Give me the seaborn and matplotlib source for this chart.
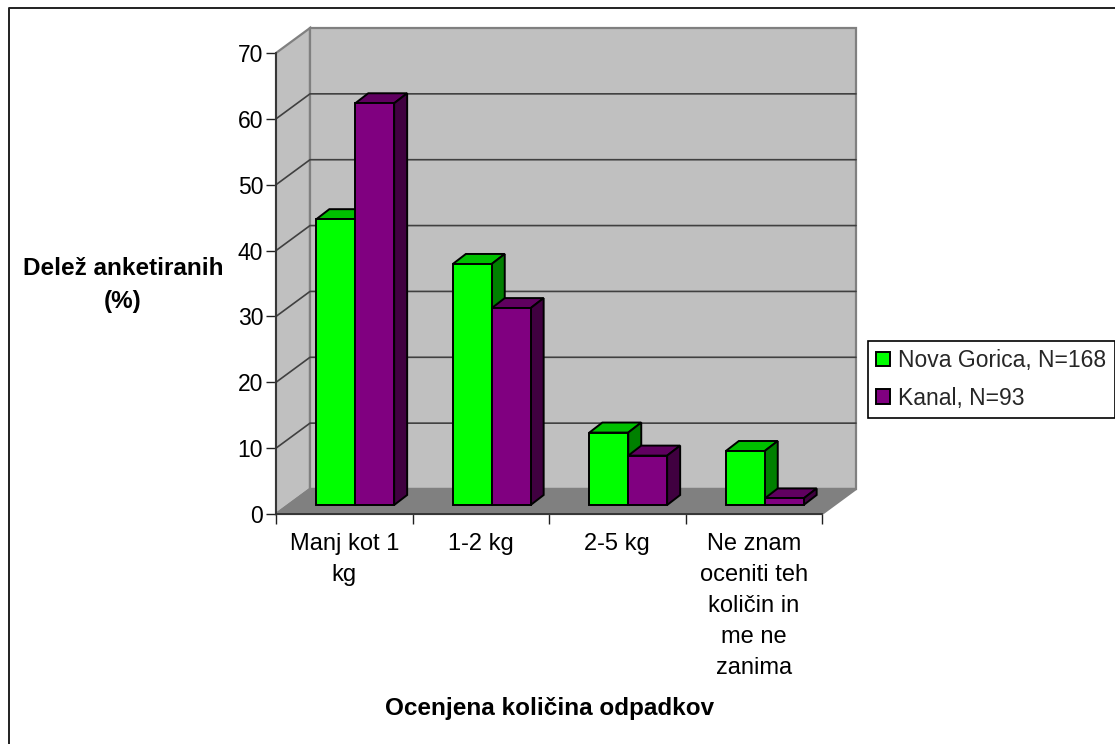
import matplotlib
matplotlib.use("Agg")
import matplotlib.pyplot as plt
from matplotlib.lines import Line2D
from matplotlib.patches import Polygon
import pandas as pd
import seaborn as sns

categories = ["Manj kot 1\nkg", "1-2 kg", "2-5 kg", "Ne znam\noceniti teh\nkoličin in\nme ne\nzanima"]
nova_gorica = [43.4, 36.6, 11.0, 8.2]
kanal = [61.0, 29.9, 7.5, 1.0]
series_names = ["Nova Gorica, N=168", "Kanal, N=93"]
y_ticks = [0, 10, 20, 30, 40, 50, 60, 70]

W, H = 1115, 744
# pixel box of the front plane of the fake 3d box
LEFT, RIGHT, BOTTOM, TOP = 276, 822, 514, 53

FRONT = ["#00ff00", "#800080"]
TOPS = ["#00c000", "#600060"]
SIDES = ["#008000", "#400040"]

sns.set_theme(style="white")
plt.rcParams["font.family"] = ["Liberation Sans", "DejaVu Sans"]

df = pd.DataFrame({
    "kategorija": categories * 2,
    "delez": nova_gorica + kanal,
    "obcina": [series_names[0]] * 4 + [series_names[1]] * 4,
})

fig = plt.figure(figsize=(W / 100, H / 100), dpi=100)
ax = fig.add_axes([LEFT / W, 1 - BOTTOM / H, (RIGHT - LEFT) / W, (BOTTOM - TOP) / H])

sns.barplot(data=df, x="kategorija", y="delez", hue="obcina", palette=FRONT,
            width=0.57, gap=0, saturation=1, edgecolor="black", linewidth=1.4,
            ax=ax, zorder=5)
ax.set_xlim(-0.5, 3.5)
ax.set_ylim(0, 70)
ax.set_yticks(y_ticks)

# pixel depths converted to data units
px_x = 4 / (RIGHT - LEFT)
px_y = 70 / (BOTTOM - TOP)
wall_dx, wall_dy = 34 * px_x, 25 * px_y
base_dx, base_dy = 11 * px_x, 9 * px_y
bar_dx, bar_dy = 13 * px_x, 10 * px_y

x0, x1 = ax.get_xlim()
y1 = ax.get_ylim()[1]


def wall(points, color):
    ax.add_patch(Polygon(points, closed=True, facecolor=color, edgecolor="#808080",
                         linewidth=1.6, clip_on=False, zorder=1))


wall([(x0, 0), (x0 + wall_dx, wall_dy), (x0 + wall_dx, y1 + wall_dy), (x0, y1)], "#c0c0c0")
wall([(x0 + wall_dx, wall_dy), (x1 + wall_dx, wall_dy), (x1 + wall_dx, y1 + wall_dy),
      (x0 + wall_dx, y1 + wall_dy)], "#c0c0c0")
wall([(x0, 0), (x1, 0), (x1 + wall_dx, wall_dy), (x0 + wall_dx, wall_dy)], "#808080")

for t in y_ticks[1:-1]:
    ax.add_line(Line2D([x0, x0 + wall_dx, x1 + wall_dx], [t, t + wall_dy, t + wall_dy],
                       color="#404040", linewidth=1.2, clip_on=False, zorder=2))

# move the bars back onto the floor and give them sides and tops
for i, container in enumerate(ax.containers):
    for bar in container:
        bar.set_x(bar.get_x() + base_dx)
        bar.set_y(base_dy)
        bar.set_clip_on(False)
        bar.set_zorder(4 + 2 * i)
        a, b = bar.get_x(), bar.get_x() + bar.get_width()
        low, high = bar.get_y(), bar.get_y() + bar.get_height()
        ax.add_patch(Polygon([(a, high), (b, high), (b + bar_dx, high + bar_dy), (a + bar_dx, high + bar_dy)],
                             facecolor=TOPS[i], edgecolor="black", linewidth=1.4,
                             clip_on=False, zorder=3 + 2 * i))
        ax.add_patch(Polygon([(b, low), (b + bar_dx, low + bar_dy), (b + bar_dx, high + bar_dy), (b, high)],
                             facecolor=SIDES[i], edgecolor="black", linewidth=1.4,
                             clip_on=False, zorder=3 + 2 * i))

sns.despine(ax=ax, top=True, right=True)
for side in ["left", "bottom"]:
    ax.spines[side].set_color("#303030")
    ax.spines[side].set_linewidth(1.3)
    ax.spines[side].set_zorder(3)

ax.tick_params(axis="y", length=7.2, width=1, color="#202020", pad=2, labelsize=16.5, left=True, labelcolor="black")
ax.tick_params(axis="x", length=0, pad=13.5, labelsize=17, labelcolor="black")
# category separators under the axis
ax.set_xticks([-0.5, 0.5, 1.5, 2.5, 3.5], minor=True)
ax.tick_params(axis="x", which="minor", length=7.2, width=1, color="#202020", bottom=True)
for label in ax.get_xticklabels():
    label.set_linespacing(1.53)

ax.set_xlabel("Ocenjena količina odpadkov", fontsize=17.5, fontweight="bold", color="black")
ax.xaxis.set_label_coords(550 / W, 1 - 697 / H, transform=fig.transFigure)
ax.set_ylabel("Delež anketiranih\n(%)", fontsize=17.5, fontweight="bold", rotation=0,
              ha="center", va="center", linespacing=1.55, color="black")
ax.yaxis.set_label_coords(123 / W, 1 - 285 / H, transform=fig.transFigure)

sns.move_legend(ax, "upper left", bbox_to_anchor=(868 / W, 1 - 341 / H),
                bbox_transform=fig.transFigure, title=None, frameon=True, fancybox=False,
                framealpha=1, edgecolor="black", fontsize=16.5, handlelength=0.62,
                handleheight=0.62, handletextpad=0.36, labelspacing=0.65, borderpad=0.35,
                borderaxespad=0)
leg = ax.get_legend()
leg.get_frame().set_linewidth(1.2)
leg.set_zorder(10)
for h in leg.get_patches():
    h.set_edgecolor("black")
    h.set_linewidth(1.4)

# chart area border, only top and left land inside the picture
fig.add_artist(Line2D([9 / W, 9 / W, 1], [0, 1 - 8 / H, 1 - 8 / H], color="#202020", linewidth=1.4))

fig.savefig("out.png", dpi=100, facecolor="white")
